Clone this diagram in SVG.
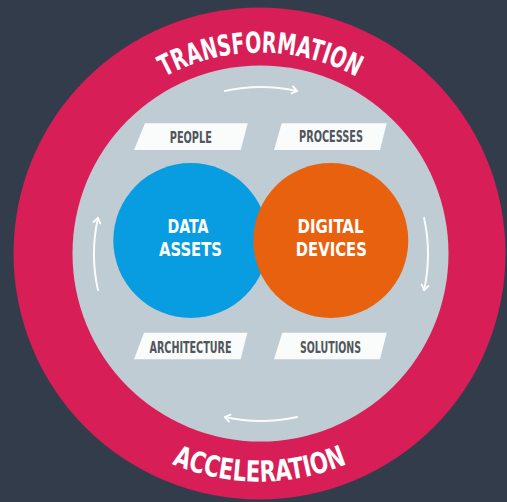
<svg xmlns="http://www.w3.org/2000/svg" width="507" height="502" viewBox="0 0 507 502">
  <style>
    .arc { font-family: "DejaVu Sans Condensed", "Liberation Sans", Arial, sans-serif; font-weight: bold; font-size: 29px; fill: #ffffff; }
    .core { font-family: "DejaVu Sans Condensed", "Liberation Sans", Arial, sans-serif; font-weight: bold; font-size: 20px; fill: #ffffff; text-anchor: middle; }
    .lbl { font-family: "DejaVu Sans Condensed", "Liberation Sans", Arial, sans-serif; font-weight: bold; font-size: 15px; fill: #50565c; text-anchor: middle; }
    .tag { fill: #fafbfb; }
    .flow { fill: none; stroke: #ffffff; stroke-opacity: 0.92; stroke-width: 2; stroke-linecap: round; }
  </style>
  <defs>
    <marker id="head" viewBox="-6 -5 8 10" markerWidth="8" markerHeight="10" refX="0" refY="0" orient="auto" markerUnits="userSpaceOnUse">
      <path d="M-5,-3.5 L0,0 L-5,3.5" fill="none" stroke="#ffffff" stroke-width="1.8" stroke-linecap="round" stroke-linejoin="round"/>
    </marker>
    <path id="topArc" d="M59.5,253.5 A201,201 0 0 1 461.5,253.5"/>
    <path id="bottomArc" d="M31.5,253.5 A228,228 0 0 0 487.5,253.5"/>
  </defs>

  <rect x="0" y="0" width="507" height="502" fill="#323c4b"/>

  <g id="outer-ring">
    <circle cx="259.5" cy="253.5" r="246" fill="#d81e56"/>
    <text class="arc"><textPath href="#topArc" startOffset="50%" text-anchor="middle" textLength="200" lengthAdjust="spacingAndGlyphs">TRANSFORMATION</textPath></text>
    <text class="arc"><textPath href="#bottomArc" startOffset="50%" text-anchor="middle" textLength="180" lengthAdjust="spacingAndGlyphs">ACCELERATION</textPath></text>
  </g>

  <g id="inner-disc">
    <circle cx="260.5" cy="253.5" r="188" fill="#bfccd4"/>
  </g>

  <g id="connectors">
    <path class="flow" d="M224.86,90.96 A167,167 0 0 1 297.14,90.96" marker-end="url(#head)"/>
    <path class="flow" d="M424.04,217.86 A167,167 0 0 1 424.04,290.14" marker-end="url(#head)"/>
    <path class="flow" d="M297.14,417.04 A167,167 0 0 1 224.86,417.04" marker-end="url(#head)"/>
    <path class="flow" d="M97.96,290.14 A167,167 0 0 1 97.96,217.86" marker-end="url(#head)"/>
  </g>

  <g id="data-assets">
    <circle cx="190.8" cy="240.5" r="77.5" fill="#089de0"/>
    <text class="core"><tspan x="188" y="232.5" textLength="41" lengthAdjust="spacingAndGlyphs">DATA</tspan><tspan x="190.5" y="256" textLength="63" lengthAdjust="spacingAndGlyphs">ASSETS</tspan></text>
  </g>

  <g id="digital-devices">
    <circle cx="330.8" cy="240.5" r="77.5" fill="#e8610e"/>
    <text class="core"><tspan x="330.5" y="232.5" textLength="66" lengthAdjust="spacingAndGlyphs">DIGITAL</tspan><tspan x="331.3" y="256" textLength="71" lengthAdjust="spacingAndGlyphs">DEVICES</tspan></text>
  </g>

  <g id="people">
    <polygon class="tag" points="145,123.3 247.7,123.3 240.7,150 134,150"/>
    <text class="lbl" x="190.8" y="143.3" textLength="42" lengthAdjust="spacingAndGlyphs">PEOPLE</text>
  </g>

  <g id="processes">
    <polygon class="tag" points="281.7,123.3 386.7,123.3 380,150 274,150"/>
    <text class="lbl" x="331" y="142" textLength="64" lengthAdjust="spacingAndGlyphs">PROCESSES</text>
  </g>

  <g id="architecture">
    <polygon class="tag" points="144,332.7 247.3,332.7 240.7,359.3 134,359.3"/>
    <text class="lbl" x="190.5" y="353.3" textLength="82" lengthAdjust="spacingAndGlyphs">ARCHITECTURE</text>
  </g>

  <g id="solutions">
    <polygon class="tag" points="282.3,332.7 386.7,332.7 380,359.3 274,359.3"/>
    <text class="lbl" x="330.5" y="353.3" textLength="61" lengthAdjust="spacingAndGlyphs">SOLUTIONS</text>
  </g>
</svg>
